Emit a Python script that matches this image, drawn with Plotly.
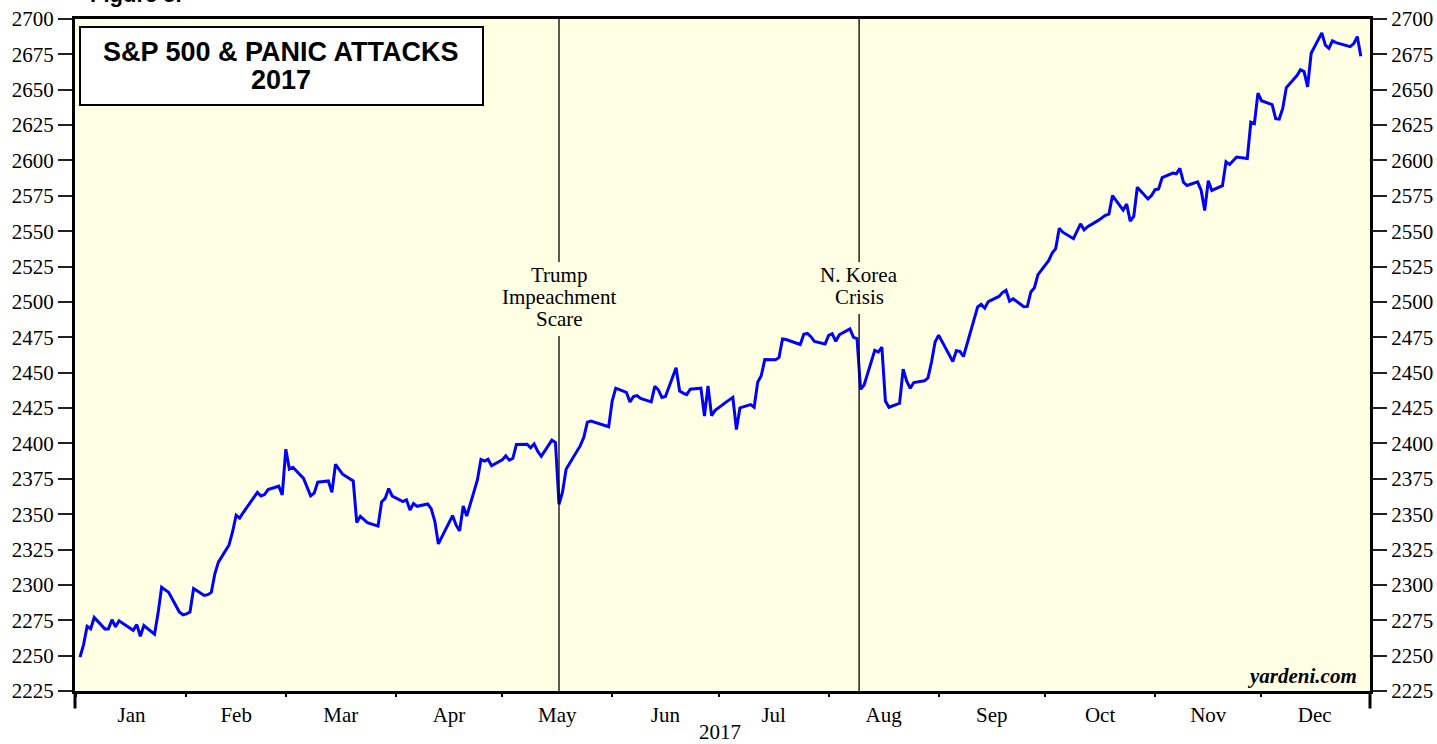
import plotly.graph_objects as go

# ---- data: S&P 500 daily closes, 2017 ----
jan_days = [2, 3, 4, 5, 6, 9, 10, 11, 12, 13, 17, 18, 19, 20, 23, 24, 25, 26, 27, 30, 31]
jan_vals = [2249.00, 2257.83, 2270.75, 2269.00, 2276.98, 2268.90, 2268.90, 2275.32, 2270.44, 2274.64,
            2267.89, 2271.89, 2263.69, 2271.31, 2265.20, 2280.07, 2298.37, 2296.68, 2294.69, 2280.90, 2278.87]
feb_days = [1, 2, 3, 6, 7, 8, 9, 10, 13, 14, 15, 16, 17, 21, 22, 23, 24, 27, 28]
feb_vals = [2279.55, 2280.85, 2297.42, 2292.56, 2293.08, 2294.67, 2307.87, 2316.10, 2328.25, 2337.58,
            2349.25, 2347.22, 2351.16, 2365.38, 2362.82, 2363.81, 2367.34, 2369.75, 2363.64]
mar_days = [1, 2, 3, 6, 7, 8, 9, 10, 13, 14, 15, 16, 17, 20, 21, 22, 23, 24, 27, 28, 29, 30, 31]
mar_vals = [2395.96, 2381.92, 2383.12, 2375.31, 2368.39, 2362.98, 2364.87, 2372.60, 2373.47, 2365.45,
            2385.26, 2381.38, 2378.25, 2373.47, 2344.02, 2348.45, 2345.96, 2343.98, 2341.59, 2358.57,
            2361.13, 2368.06, 2362.72]
apr_days = [3, 4, 5, 6, 7, 10, 11, 12, 13, 17, 18, 19, 20, 21, 24, 25, 26, 27, 28]
apr_vals = [2358.84, 2360.16, 2352.95, 2357.49, 2355.54, 2357.16, 2353.78, 2344.93, 2328.95, 2349.01,
            2342.19, 2338.17, 2355.84, 2348.69, 2374.15, 2388.61, 2387.45, 2388.77, 2384.20]
may_days = [1, 2, 3, 4, 5, 8, 9, 10, 11, 12, 15, 16, 17, 18, 19, 22, 23, 24, 25, 26, 30, 31]
may_vals = [2388.33, 2391.17, 2388.13, 2389.52, 2399.29, 2399.38, 2396.92, 2399.63, 2394.44, 2390.90,
            2402.32, 2400.67, 2357.03, 2365.72, 2381.73, 2394.02, 2398.42, 2404.39, 2415.07, 2415.82,
            2412.91, 2411.80]
jun_days = [1, 2, 5, 6, 7, 8, 9, 12, 13, 14, 15, 16, 19, 20, 21, 22, 23, 26, 27, 28, 29, 30]
jun_vals = [2430.06, 2439.07, 2436.10, 2429.33, 2433.14, 2433.79, 2431.77, 2429.39, 2440.35, 2437.92,
            2432.46, 2433.15, 2453.46, 2437.03, 2435.61, 2434.50, 2438.30, 2439.07, 2419.38, 2440.69,
            2419.70, 2423.41]
jul_days = [3, 5, 6, 7, 10, 11, 12, 13, 14, 17, 18, 19, 20, 21, 24, 25, 26, 27, 28, 31]
jul_vals = [2429.01, 2432.54, 2409.75, 2425.18, 2427.43, 2425.53, 2443.25, 2447.83, 2459.27, 2459.14,
            2460.61, 2473.83, 2473.45, 2472.54, 2469.91, 2477.13, 2477.83, 2475.42, 2472.10, 2470.30]
aug_days = [1, 2, 3, 4, 7, 8, 9, 10, 11, 14, 15, 16, 17, 18, 21, 22, 23, 24, 25, 28, 29, 30, 31]
aug_vals = [2476.35, 2477.57, 2472.16, 2476.83, 2480.91, 2474.92, 2474.02, 2438.21, 2441.32, 2465.84,
            2464.61, 2468.11, 2430.01, 2425.55, 2428.37, 2452.51, 2444.04, 2438.97, 2443.05, 2444.24,
            2446.30, 2457.59, 2471.65]
sep_days = [1, 5, 6, 7, 8, 11, 12, 13, 14, 15, 18, 19, 20, 21, 22, 25, 26, 27, 28, 29]
sep_vals = [2476.55, 2457.85, 2465.54, 2465.10, 2461.43, 2488.11, 2496.48, 2498.37, 2495.62, 2500.23,
            2503.87, 2506.65, 2508.24, 2500.60, 2502.22, 2496.66, 2496.84, 2507.04, 2510.06, 2519.36]
oct_days = [2, 3, 4, 5, 6, 9, 10, 11, 12, 13, 16, 17, 18, 19, 20, 23, 24, 25, 26, 27, 30, 31]
oct_vals = [2529.12, 2534.58, 2537.74, 2552.07, 2549.33, 2544.73, 2550.64, 2555.24, 2550.93, 2553.17,
            2557.64, 2559.36, 2561.26, 2562.10, 2575.21, 2564.98, 2569.13, 2557.15, 2560.40, 2581.07,
            2572.83, 2575.26]
nov_days = [1, 2, 3, 6, 7, 8, 9, 10, 13, 14, 15, 16, 17, 20, 21, 22, 24, 27, 28, 29, 30]
nov_vals = [2579.36, 2579.85, 2587.84, 2591.13, 2590.64, 2594.38, 2584.62, 2582.30, 2584.84, 2578.87,
            2564.62, 2585.64, 2578.85, 2582.14, 2599.03, 2597.08, 2602.42, 2601.42, 2627.04, 2626.07,
            2647.58]
dec_days = [1, 4, 5, 6, 7, 8, 11, 12, 13, 14, 15, 18, 19, 20, 21, 22, 26, 27, 28, 29]
dec_vals = [2642.22, 2639.44, 2629.57, 2629.27, 2636.98, 2651.50, 2659.99, 2664.11, 2662.85, 2652.01,
            2675.81, 2690.16, 2681.47, 2679.25, 2684.57, 2683.34, 2680.50, 2682.62, 2687.54, 2673.61]

y_ticks = list(range(2225, 2701, 25))
events = [("2017-05-17", ["Trump", "Impeachment", "Scare"]),
          ("2017-08-09 14:00", ["N. Korea", "Crisis"])]

months = [(1, jan_days, jan_vals), (2, feb_days, feb_vals), (3, mar_days, mar_vals),
          (4, apr_days, apr_vals), (5, may_days, may_vals), (6, jun_days, jun_vals),
          (7, jul_days, jul_vals), (8, aug_days, aug_vals), (9, sep_days, sep_vals),
          (10, oct_days, oct_vals), (11, nov_days, nov_vals), (12, dec_days, dec_vals)]
dates, values = [], []
for m, ds, vs in months:
    for d, v in zip(ds, vs):
        dates.append(f"2017-{m:02d}-{d:02d}")
        values.append(v)

BG = "#FFFFE4"
SERIF = "Liberation Serif, Times New Roman, serif"
SANS = "Liberation Sans, Arial, sans-serif"
FS = 21
TOP, PLOT_H = 19, 672


def py(pix):
    """pixel row -> paper y"""
    return 1 - (pix - TOP) / PLOT_H


fig = go.Figure()
fig.add_trace(go.Scatter(x=dates, y=values, mode="lines",
                         line=dict(color="#0000FF", width=3), showlegend=False))
# same series on the right-hand axis (transparent) so that axis is rendered
fig.add_trace(go.Scatter(x=dates, y=values, mode="lines", yaxis="y2",
                         line=dict(color="rgba(0,0,0,0)", width=0), showlegend=False,
                         hoverinfo="skip"))

yaxis_common = dict(range=[2225, 2700], tickvals=y_ticks, ticks="outside", ticklen=14,
                    tickwidth=2, tickcolor="#222", showgrid=False, zeroline=False,
                    showline=True, linewidth=3, linecolor="black",
                    tickfont=dict(family=SERIF, size=FS, color="black"))

fig.update_layout(
    width=1437, height=744,
    margin=dict(l=75, r=67, t=TOP, b=53, autoexpand=False),
    paper_bgcolor="white", plot_bgcolor=BG,
    xaxis=dict(type="date", range=["2016-12-31 14:00", "2017-12-31 14:00"],
               dtick="M1", tick0="2017-01-01", tickformat="%b", ticklabelmode="period",
               ticks="outside", ticklen=3, tickwidth=2, tickcolor="black",
               showline=True, linewidth=3, linecolor="black", mirror=True,
               showgrid=False, zeroline=False,
               tickfont=dict(family=SERIF, size=FS, color="black")),
    yaxis=dict(side="left", **yaxis_common),
    yaxis2=dict(side="right", overlaying="y", **yaxis_common),
)

# end ticks of the x axis (long)
for xp in (0, 1):
    fig.add_shape(type="line", xref="paper", yref="paper", x0=xp, x1=xp, y0=0, y1=-0.026,
                  line=dict(color="black", width=3))

# event lines (broken around their labels) with labels
for xd, lines in events:
    gap_top = 262
    gap_bot = 275 + 22 * (len(lines) - 1) + 17
    fig.add_shape(type="line", xref="x", yref="paper", x0=xd, x1=xd, y0=py(gap_top), y1=1,
                  line=dict(color="black", width=1.3), layer="above")
    fig.add_shape(type="line", xref="x", yref="paper", x0=xd, x1=xd, y0=0, y1=py(gap_bot),
                  line=dict(color="black", width=1.3), layer="above")
    for i, txt in enumerate(lines):
        fig.add_annotation(x=xd, xref="x", yref="paper", xanchor="center",
                           y=py(275 + 22 * i), yanchor="middle",
                           text=txt, showarrow=False,
                           font=dict(family=SERIF, size=FS, color="black"))

# title box
fig.add_shape(type="rect", xref="paper", yref="paper",
              x0=(80 - 75) / 1295, x1=(483 - 75) / 1295, y0=py(105), y1=py(27),
              fillcolor="white", line=dict(color="black", width=2), layer="above")
for txt, ypix in (("S&P 500 & PANIC ATTACKS", 52), ("2017", 80)):
    fig.add_annotation(x=(281 - 75) / 1295, y=py(ypix), xref="paper", yref="paper",
                       text=f"<b>{txt}</b>", showarrow=False, xanchor="center", yanchor="middle",
                       font=dict(family=SANS, size=27, color="black"))

# figure label (cut off at the top, as in the source)
fig.add_annotation(x=(88 - 75) / 1295, y=py(9), xref="paper", yref="paper",
                   xanchor="left", yanchor="bottom", text="<b>Figure 5.</b>", showarrow=False,
                   font=dict(family=SANS, size=22, color="black"))

# source
fig.add_annotation(x=(1359 - 75) / 1295, y=py(676), xref="paper", yref="paper",
                   xanchor="right", yanchor="middle", text="<b><i>yardeni.com</i></b>",
                   showarrow=False, font=dict(family=SERIF, size=21, color="black"))

# x axis title
fig.add_annotation(x=(720 - 75) / 1295, y=py(732), xref="paper", yref="paper",
                   xanchor="center", yanchor="middle", text="2017", showarrow=False,
                   font=dict(family=SERIF, size=FS, color="black"))

fig.write_html("out.html", config={"displayModeBar": False},
               post_script="document.body.style.margin='0';document.body.style.overflow='hidden';")
